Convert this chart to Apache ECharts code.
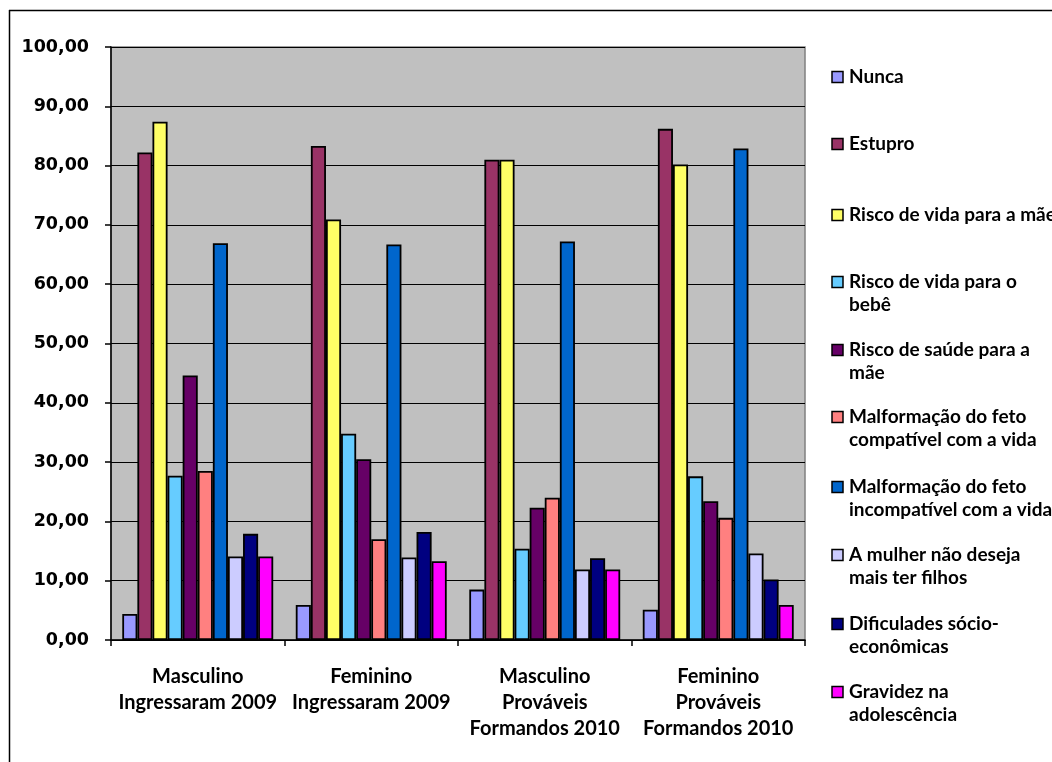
<!DOCTYPE html>
<html>
<head>
<meta charset="utf-8">
<script src="https://cdn.jsdelivr.net/npm/echarts@6/dist/echarts.min.js"></script>
<style>
  html, body { margin: 0; padding: 0; background: #fff; }
  #chart { width: 1052px; height: 762px; }
</style>
</head>
<body>
<div id="chart"></div>
<script>
// Groups of respondents (x-axis categories)
const categories = [
  'Masculino\nIngressaram 2009',
  'Feminino\nIngressaram 2009',
  'Masculino\nProváveis\nFormandos 2010',
  'Feminino\nProváveis\nFormandos 2010'
];

// Legend labels (line breaks as shown in the key)
const seriesLabels = [
  'Nunca',
  'Estupro',
  'Risco de vida para a mãe',
  'Risco de vida para o\nbebê',
  'Risco de saúde para a\nmãe',
  'Malformação do feto\ncompatível com a vida',
  'Malformação do feto\nincompatível com a vida',
  'A mulher não deseja\nmais ter filhos',
  'Dificulades sócio-\neconômicas',
  'Gravidez na\nadolescência'
];

const seriesColors = [
  '#9999FF', '#993366', '#FFFF66', '#66CCFF', '#660066',
  '#FF8080', '#0066CC', '#CCCCFF', '#000080', '#FF00FF'
];

// Percentages per reason, one value per group
const nunca              = [4.4, 5.9, 8.5, 5.1];
const estupro            = [82.2, 83.3, 81.0, 86.2];
const riscoVidaMae       = [87.4, 70.9, 81.0, 80.2];
const riscoVidaBebe      = [27.7, 34.8, 15.4, 27.6];
const riscoSaudeMae      = [44.6, 30.5, 22.3, 23.4];
const malfCompativel     = [28.5, 17.0, 24.0, 20.6];
const malfIncompativel   = [66.9, 66.7, 67.2, 82.9];
const naoDesejaFilhos    = [14.1, 13.9, 11.9, 14.6];
const dificuldades       = [17.9, 18.2, 13.8, 10.2];
const gravidezAdolesc    = [14.1, 13.3, 11.9, 5.9];

const seriesValues = [
  nunca, estupro, riscoVidaMae, riscoVidaBebe, riscoSaudeMae,
  malfCompativel, malfIncompativel, naoDesejaFilhos, dificuldades, gravidezAdolesc
];

const yTicks = { min: 0, max: 100, interval: 10 };

const labelFont = 'Lato';

const series = seriesLabels.map((label, i) => ({
  name: label.replace('\n', ' '),
  type: 'bar',
  data: seriesValues[i],
  barGap: '0%',
  barCategoryGap: '13%',
  itemStyle: { color: seriesColors[i], borderColor: '#000', borderWidth: 1.8 },
  emphasis: { disabled: true }
}));

// Key on the right: swatch + text, first lines at these heights
const legendTops = [77, 144, 215, 282, 350, 417, 487, 555, 624, 692];
const legendGraphics = [];
seriesLabels.forEach((label, i) => {
  legendGraphics.push({
    type: 'rect',
    shape: { x: 832, y: legendTops[i] - 5.5, width: 11, height: 11 },
    style: { fill: seriesColors[i], stroke: '#000', lineWidth: 1.5 },
    silent: true
  });
  legendGraphics.push({
    type: 'text',
    x: 849,
    y: legendTops[i] - 11.5,
    style: {
      text: label,
      font: 'bold 19px ' + labelFont,
      fill: '#000',
      lineHeight: 23,
      verticalAlign: 'top',
      align: 'left'
    },
    silent: true
  });
});

// Outer frame (top and left edges)
const frame = [
  { type: 'line', shape: { x1: 9, y1: 10.5, x2: 1052, y2: 10.5 }, style: { stroke: '#000', lineWidth: 1.5 }, silent: true },
  { type: 'line', shape: { x1: 9.5, y1: 10, x2: 9.5, y2: 762 }, style: { stroke: '#000', lineWidth: 1.5 }, silent: true }
];

const chart = echarts.init(document.getElementById('chart'), null, { renderer: 'canvas' });
chart.setOption({
  backgroundColor: '#fff',
  animation: false,
  grid: {
    left: 111, right: 247, top: 47, bottom: 122,
    show: true,
    backgroundColor: '#C0C0C0',
    borderColor: '#808080',
    borderWidth: 1.5
  },
  xAxis: {
    type: 'category',
    data: categories,
    axisLine: { lineStyle: { color: '#000', width: 1.5 } },
    axisTick: { show: true, length: 6, lineStyle: { color: '#000', width: 1.5 } },
    axisLabel: {
      interval: 0,
      margin: 24,
      color: '#000',
      fontFamily: labelFont,
      fontWeight: 'bold',
      fontSize: 20,
      lineHeight: 26,
      align: 'center'
    }
  },
  yAxis: {
    type: 'value',
    min: yTicks.min, max: yTicks.max, interval: yTicks.interval,
    axisLine: { show: true, lineStyle: { color: '#000', width: 1.5 } },
    axisTick: { show: true, length: 6, lineStyle: { color: '#000', width: 1.5 } },
    splitLine: { show: true, lineStyle: { color: '#000', width: 1 } },
    axisLabel: {
      margin: 22,
      color: '#000',
      fontFamily: 'DejaVu Sans',
      fontWeight: 'bold',
      fontSize: 17.5,
      formatter: v => v.toFixed(2).replace('.', ',')
    }
  },
  legend: { show: false },
  tooltip: { show: false },
  series: series,
  graphic: frame.concat(legendGraphics)
});
</script>
</body>
</html>
